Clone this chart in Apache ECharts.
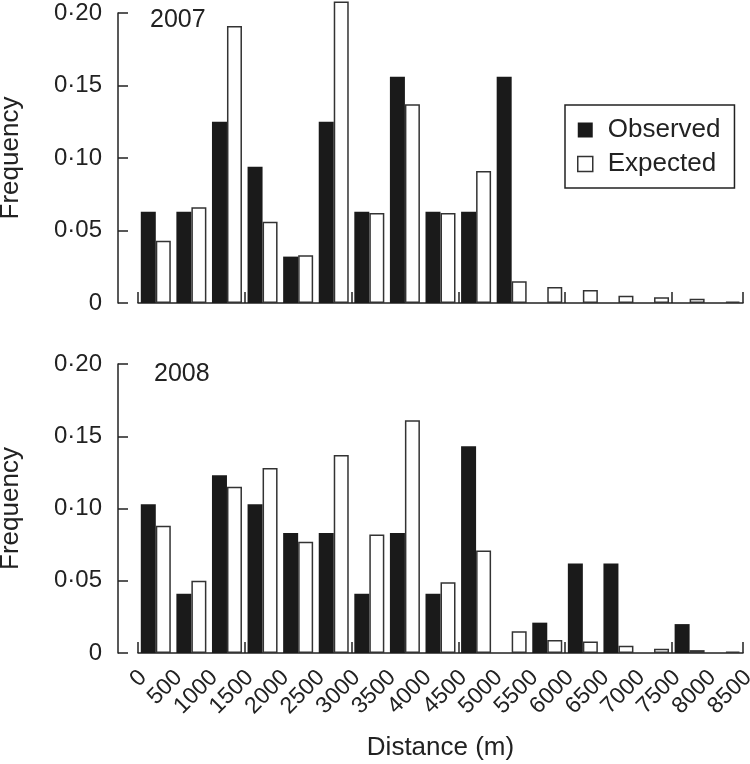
<!DOCTYPE html>
<html>
<head>
<meta charset="utf-8">
<script src="https://cdn.jsdelivr.net/npm/echarts@6/dist/echarts.min.js"></script>
<style>html,body{margin:0;padding:0;background:#fff}#c{width:750px;height:764px}</style>
</head>
<body>
<div id="c"></div>
<script>
var bins = ['0-500','500-1000','1000-1500','1500-2000','2000-2500','2500-3000','3000-3500','3500-4000','4000-4500','4500-5000','5000-5500','5500-6000','6000-6500','6500-7000','7000-7500','7500-8000','8000-8500'];
var distLabels = ['0','500','1000','1500','2000','2500','3000','3500','4000','4500','5000','5500','6000','6500','7000','7500','8000','8500'];
var yTickLabels = ['0','0·05','0·10','0·15','0·20'];
var observed2007 = [0.063,0.063,0.125,0.094,0.032,0.125,0.063,0.156,0.063,0.063,0.156,0,0,0,0,0,0];
var expected2007 = [0.043,0.066,0.191,0.056,0.033,0.208,0.062,0.137,0.062,0.091,0.015,0.011,0.009,0.005,0.004,0.003,0.001];
var observed2008 = [0.103,0.041,0.123,0.103,0.083,0.083,0.041,0.083,0.041,0.143,0,0.021,0.062,0.062,0,0.020,0];
var expected2008 = [0.088,0.050,0.115,0.128,0.077,0.137,0.082,0.161,0.049,0.071,0.015,0.009,0.008,0.005,0.003,0.002,0.001];

var FONT = 'Liberation Sans, Arial, Helvetica, sans-serif';
var INK = '#222';
var chart = echarts.init(document.getElementById('c'), null, {renderer:'canvas'});

function catAxis(gi){
  var ax = {type:'category', gridIndex:gi, data:bins, boundaryGap:true,
    axisLine:{show:true, lineStyle:{color:INK, width:1.5}},
    axisTick:{show:true, inside:true, length:11, lineStyle:{color:INK, width:1.5}},
    axisLabel:{show:false}, splitLine:{show:false}};
  if (gi === 1) {
    ax.name = 'Distance (m)'; ax.nameLocation = 'middle'; ax.nameGap = 82;
    ax.nameTextStyle = {fontFamily:FONT, fontSize:26, color:INK};
  }
  return ax;
}
function valAxis(gi){
  return {type:'value', gridIndex:gi, min:0, max:0.2, interval:0.05, offset:20,
    name:'Frequency', nameLocation:'middle', nameRotate:90, nameGap:94,
    nameTextStyle:{fontFamily:FONT, fontSize:26, color:INK},
    axisLine:{show:true, lineStyle:{color:INK, width:1.5}},
    axisTick:{show:true, inside:true, length:10, lineStyle:{color:INK, width:1.5}},
    axisLabel:{margin:16, fontFamily:FONT, fontSize:24, color:INK,
      formatter:function(v, i){ return yTickLabels[Math.round(v/0.05)]; }},
    splitLine:{show:false}};
}
var obsStyle = {color:'#1a1a1a', borderColor:'#1a1a1a', borderWidth:0};
var expStyle = {color:'#ffffff', borderColor:'#333', borderWidth:1.5};

var option = {
  animation:false,
  backgroundColor:'#fff',
  grid:[
    {left:138, width:605, top:13, height:290, outerBoundsMode:'none', containLabel:false},
    {left:138, width:605, top:364, height:289, outerBoundsMode:'none', containLabel:false},
    {left:143, width:605, top:364, height:289, outerBoundsMode:'none', containLabel:false}
  ],
  xAxis:[
    catAxis(0), catAxis(1),
    {type:'category', gridIndex:2, data:distLabels, boundaryGap:false, position:'bottom',
     axisLine:{show:false}, axisTick:{show:false},
     axisLabel:{interval:0, rotate:45, margin:21, fontFamily:FONT, fontSize:23, color:INK}}
  ],
  yAxis:[valAxis(0), valAxis(1),
    {type:'value', gridIndex:2, show:false, min:0, max:1}],
  legend:{orient:'vertical', left:565, top:105, itemWidth:15, itemHeight:15, itemGap:8,
    padding:[12,14,11,12], borderColor:INK, borderWidth:1.5, icon:'rect',
    textStyle:{fontFamily:FONT, fontSize:26, color:INK, padding:[0,0,0,10]},
    data:[{name:'Observed', itemStyle:obsStyle},{name:'Expected', itemStyle:expStyle}]},
  graphic:[
    {type:'text', left:150, top:8, style:{text:'2007', font:'25px ' + FONT, fill:INK}},
    {type:'text', left:154, top:362, style:{text:'2008', font:'25px ' + FONT, fill:INK}}
  ],
  series:[
    {name:'Observed', type:'bar', xAxisIndex:0, yAxisIndex:0, data:observed2007, barWidth:15, barGap:'0%', clip:false, itemStyle:obsStyle},
    {name:'Expected', type:'bar', xAxisIndex:0, yAxisIndex:0, data:expected2007, barWidth:15, barGap:'0%', clip:false, itemStyle:expStyle},
    {name:'Observed', type:'bar', xAxisIndex:1, yAxisIndex:1, data:observed2008, barWidth:15, barGap:'0%', clip:false, itemStyle:obsStyle},
    {name:'Expected', type:'bar', xAxisIndex:1, yAxisIndex:1, data:expected2008, barWidth:15, barGap:'0%', clip:false, itemStyle:expStyle}
  ]
};
chart.setOption(option);
</script>
</body>
</html>
